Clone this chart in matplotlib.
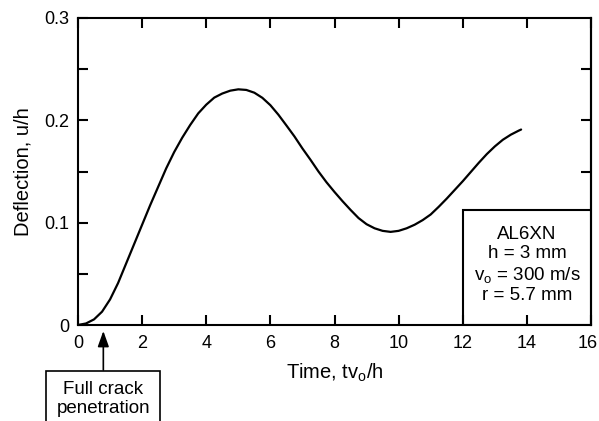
import matplotlib
matplotlib.use("Agg")
import matplotlib.pyplot as plt
import matplotlib.transforms as mtransforms
from matplotlib.patches import Rectangle

plt.rcParams['font.family'] = ['Liberation Sans', 'DejaVu Sans']
plt.rcParams['mathtext.fontset'] = 'custom'
plt.rcParams['mathtext.rm'] = 'Liberation Sans'
plt.rcParams['mathtext.it'] = 'Liberation Sans'

# ---- data ----
time = [0, 0.25, 0.5, 0.75, 1.0, 1.25, 1.5, 1.75, 2.0, 2.25, 2.5, 2.75, 3.0,
        3.25, 3.5, 3.75, 4.0, 4.25, 4.5, 4.75, 5.0, 5.25, 5.5, 5.75, 6.0,
        6.25, 6.5, 6.75, 7.0, 7.25, 7.5, 7.75, 8.0, 8.25, 8.5, 8.75, 9.0,
        9.25, 9.5, 9.75, 10.0, 10.25, 10.5, 10.75, 11.0, 11.25, 11.5, 11.75,
        12.0, 12.25, 12.5, 12.75, 13.0, 13.25, 13.5, 13.75, 13.82]
deflection = [0, 0.0015, 0.0055, 0.013, 0.025, 0.041, 0.060, 0.079, 0.098,
              0.117, 0.135, 0.153, 0.169, 0.183, 0.1955, 0.2068, 0.2153, 0.2222,
              0.2262, 0.2290, 0.2303, 0.2297, 0.2270, 0.2220, 0.2148, 0.2055,
              0.1950, 0.1843, 0.1725, 0.1615, 0.150, 0.1395, 0.130, 0.121, 0.1125,
              0.1045, 0.0985, 0.0945, 0.092, 0.091, 0.092, 0.0945, 0.098, 0.1025,
              0.108, 0.1155, 0.1235, 0.132, 0.1405, 0.1495, 0.1585, 0.167,
              0.1745, 0.181, 0.186, 0.190, 0.191]

x_ticks = [0, 2, 4, 6, 8, 10, 12, 14, 16]
y_ticks = [0, 0.1, 0.2, 0.3]
y_tick_labels = ['0', '0.1', '0.2', '0.3']
y_minor = [0.05, 0.15, 0.25]
right_ticks = [0.15, 0.2, 0.25]
crack_time = 0.79
info_lines = ['AL6XN', 'h = 3 mm', r'v$_{\rm o}$ = 300 m/s', 'r = 5.7 mm']
box_x = (12, 16)
box_top = 0.112

fig = plt.figure(figsize=(5.99, 4.21), dpi=100)
ax = fig.add_axes([78/599, 1 - 325/421, (591-78)/599, (325-18)/421])

ax.plot(time, deflection, color='black', lw=1.6, solid_capstyle='round',
        solid_joinstyle='round', zorder=4)

ax.set_xlim(0, 16)
ax.set_ylim(0, 0.3)
ax.set_xticks(x_ticks)
ax.set_xticklabels([str(v) for v in x_ticks])
ax.set_yticks(y_ticks)
ax.set_yticklabels(y_tick_labels)
ax.set_yticks(y_minor, minor=True)

for s in ax.spines.values():
    s.set_linewidth(1.5)

ax.tick_params(which='both', direction='in', length=7.2, width=1.5,
               top=True, right=False, labelsize=13, pad=6.5)
ax.tick_params(axis='x', pad=7)

# keep the last x tick label fully inside the canvas
last = ax.get_xticklabels()[-1]
last.set_transform(last.get_transform() +
                   mtransforms.ScaledTranslation(-3/100, 0, fig.dpi_scale_trans))

sec = ax.secondary_yaxis('right')
sec.set_yticks(right_ticks)
sec.set_yticklabels([])
sec.tick_params(direction='in', length=7.2, width=1.5)
sec.spines['right'].set_linewidth(1.5)

ax.set_xlabel(r'Time, tv$_{\rm o}$/h', fontsize=14.5, labelpad=7)
ax.set_ylabel('Deflection, u/h', fontsize=14.5, labelpad=8)

# info box
rect = Rectangle((box_x[0], 0), box_x[1] - box_x[0], box_top, facecolor='white',
                 edgecolor='black', lw=1.5, zorder=1)
ax.add_patch(rect)
ax.text((box_x[0] + box_x[1]) / 2, 0.0587, '\n'.join(info_lines), ha='center',
        va='center', fontsize=13.5, linespacing=1.16, zorder=5)

# annotation
ax.annotate('Full crack\npenetration', xy=(crack_time, 0), xycoords='data',
            xytext=(0, -40.3), textcoords='offset points', ha='center', va='top',
            fontsize=13.5, linespacing=1.15, annotation_clip=False,
            bbox=dict(boxstyle='square,pad=0.55', facecolor='white',
                      edgecolor='black', lw=1.2),
            arrowprops=dict(arrowstyle='-|>,head_length=0.7,head_width=0.25',
                            color='black', lw=1.2, shrinkA=0, shrinkB=4.3))

fig.savefig('out.png', dpi=100)
